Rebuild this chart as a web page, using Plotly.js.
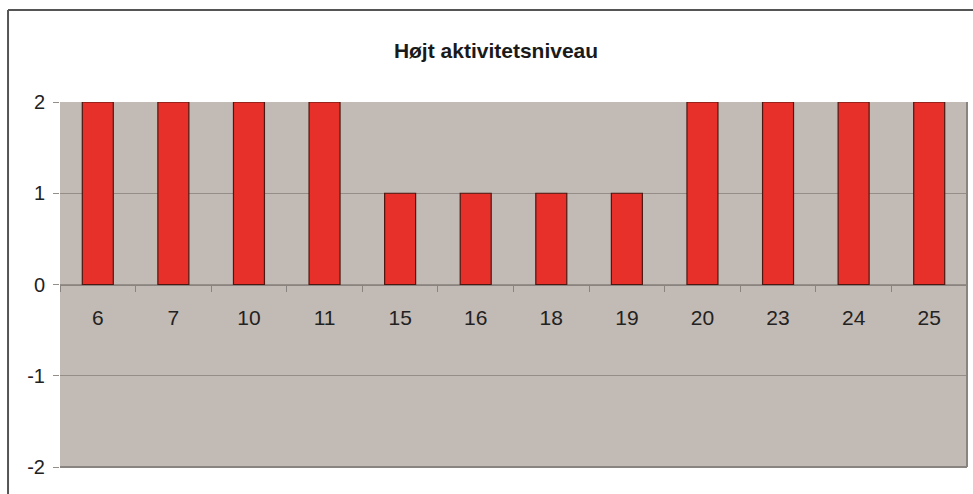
<!DOCTYPE html>
<html>
<head>
<meta charset="utf-8">
<script src="https://cdn.plot.ly/plotly-3.0.1.min.js"></script>
<style>html,body{margin:0;padding:0;background:#fff;}#chart{width:973px;height:494px;}</style>
</head>
<body>
<div id="chart"></div>
<script>
const categories = ['6','7','10','11','15','16','18','19','20','23','24','25'];
const values = [2,2,2,2,1,1,1,1,2,2,2,2];
const yTicks = [-2,-1,0,1,2];
const titleText = 'Højt aktivitetsniveau';

const trace = {
  type: 'bar',
  x: categories,
  y: values,
  marker: {color: '#e8302a', line: {color: '#4a1810', width: 1.2}},
  hoverinfo: 'x+y'
};

const layout = {
  width: 973, height: 494,
  margin: {l: 60, r: 6, t: 102, b: 27},
  paper_bgcolor: '#ffffff',
  plot_bgcolor: '#c2bab4',
  showlegend: false,
  bargap: 0.59,
  title: {
    text: '<b>' + titleText + '</b>',
    x: 496 / 973, xref: 'container', xanchor: 'center', y: 53, yref: 'container', yanchor: 'middle',
    font: {family: 'Liberation Sans, Arial, sans-serif', size: 21, color: '#1a1a1a'}
  },
  xaxis: {
    type: 'category',
    anchor: 'free', position: 0.5,
    showgrid: false, zeroline: false, showline: true, linecolor: '#8a8480', linewidth: 1,
    ticks: 'outside', tickson: 'boundaries', ticklen: 6, tickcolor: '#8a8480',
    ticklabelstandoff: 14,
    tickfont: {family: 'Liberation Sans, Arial, sans-serif', size: 21, color: '#222'}
  },
  yaxis: {
    range: [-2, 2], tickvals: yTicks, ticktext: yTicks.map(String),
    showgrid: true, gridcolor: '#948d88', gridwidth: 1,
    zeroline: true, zerolinecolor: '#948d88', zerolinewidth: 1,
    showline: false,
    ticks: 'outside', ticklen: 6, tickcolor: '#948d88',
    ticklabelstandoff: 4,
    tickfont: {family: 'Liberation Sans, Arial, sans-serif', size: 20, color: '#222'}
  },
  shapes: [
    {type: 'line', xref: 'paper', yref: 'paper', x0: 1, x1: 1, y0: 0, y1: 1, line: {color: '#8a8480', width: 2}},
    {type: 'line', xref: 'paper', yref: 'paper', x0: 0, x1: 1, y0: 0, y1: 0, line: {color: '#8a8480', width: 2}},
    {type: 'line', xref: 'paper', yref: 'paper', x0: -0.0573, x1: -0.0573, y0: -0.2, y1: 1.252, line: {color: '#555', width: 2}},
    {type: 'line', xref: 'paper', yref: 'paper', x0: -0.0573, x1: 1.2, y0: 1.252, y1: 1.252, line: {color: '#555', width: 2}}
  ]
};

Plotly.newPlot('chart', [trace], layout, {displayModeBar: false, staticPlot: true});
</script>
</body>
</html>
